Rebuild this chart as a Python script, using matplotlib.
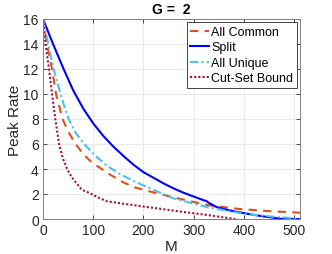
import matplotlib
matplotlib.use("Agg")
import matplotlib.pyplot as plt

plt.rcParams['font.family'] = ['Liberation Sans', 'DejaVu Sans']

# Data
split_M = [0, 20, 40, 60, 80, 100, 120, 140, 160, 180, 200, 220, 240, 260, 280, 300, 320, 325, 330,
           346, 360, 380, 400, 420, 440, 460, 473, 480, 512]
split_R = [16, 14.0, 12.1, 10.3, 8.85, 7.65, 6.65, 5.8, 5.05, 4.35, 3.75, 3.3, 2.85, 2.45, 2.1, 1.8, 1.5, 1.45, 1.3,
           0.95, 0.8, 0.62, 0.47, 0.33, 0.2, 0.1, 0.02, 0.0, 0.0]

common_M = [0, 5, 10, 18, 26, 39, 50, 65, 80, 98, 117, 137, 160, 183, 213, 260, 327, 391, 450, 500, 512]
common_R = [16, 14.8, 13.6, 12.0, 10.0, 8.0, 7.0, 6.0, 5.2, 4.5, 4.0, 3.47, 2.93, 2.53, 2.2, 1.73, 1.12, 0.8, 0.63, 0.53, 0.5]

unique_M = [0, 5, 10, 21, 35, 43, 51, 65, 82, 104, 127, 153, 180, 213, 260, 327, 403, 460, 500, 512]
unique_R = [16, 15.0, 14.1, 12.0, 10.0, 8.95, 8.0, 6.9, 6.0, 5.07, 4.27, 3.6, 3.05, 2.45, 1.65, 0.95, 0.4, 0.18, 0.06, 0.0]

cut_M = [0, 5, 12, 18, 24.5, 32, 40, 48, 57, 68, 77, 94, 110, 127, 150, 170, 194, 213, 260, 327, 383]
cut_R = [16, 14.0, 12.0, 10.0, 8.0, 6.0, 4.8, 4.0, 3.35, 2.8, 2.35, 2.05, 1.72, 1.42, 1.28, 1.17, 1.03, 0.93, 0.67, 0.32, 0.0]

x_ticks = [0, 100, 200, 300, 400, 500]
y_ticks = [0, 2, 4, 6, 8, 10, 12, 14, 16]

fig = plt.figure(figsize=(3.32, 2.55), dpi=100)
ax = fig.add_axes([43 / 332, 1 - 220 / 255, (300 - 43) / 332, 200 / 255])

ax.plot(common_M, common_R, color='#D95319', lw=1.5, ls=(0, (4, 3)), label='All Common')
ax.plot(split_M, split_R, color='#0000FF', lw=1.5, ls='-', label='Split')
ax.plot(unique_M, unique_R, color='#4DBEEE', lw=1.5, ls=(0, (4, 1.5, 1, 1.5)), label='All Unique')
ax.plot(cut_M, cut_R, color='#A2142F', lw=1.5, ls=(0, (1, 1)), label='Cut-Set Bound')

ax.set_xlim(0, 512)
ax.set_ylim(0, 16)
ax.set_xticks(x_ticks)
ax.set_yticks(y_ticks)
ax.grid(True, color='#E6E6E6', lw=0.6)
ax.set_axisbelow(True)
ax.tick_params(direction='in', length=3, width=0.6, colors='#262626', labelsize=10,
               top=True, right=True, pad=3)
for s in ax.spines.values():
    s.set_color('#808080')
    s.set_linewidth(0.7)

ax.set_xlabel('M', fontsize=11, color='#262626', labelpad=1)
ax.set_ylabel('Peak Rate', fontsize=11, color='#262626', labelpad=1)
ax.set_title('G =  2', fontsize=10, fontweight='bold', pad=4)

leg = ax.legend(loc='upper right', fontsize=9, handlelength=1.5, handletextpad=0.15,
                borderpad=0.3, labelspacing=0.28, borderaxespad=0.25, fancybox=False,
                framealpha=1)
leg.get_frame().set_edgecolor('#262626')
leg.get_frame().set_linewidth(0.6)

fig.savefig('out.png', dpi=100)
